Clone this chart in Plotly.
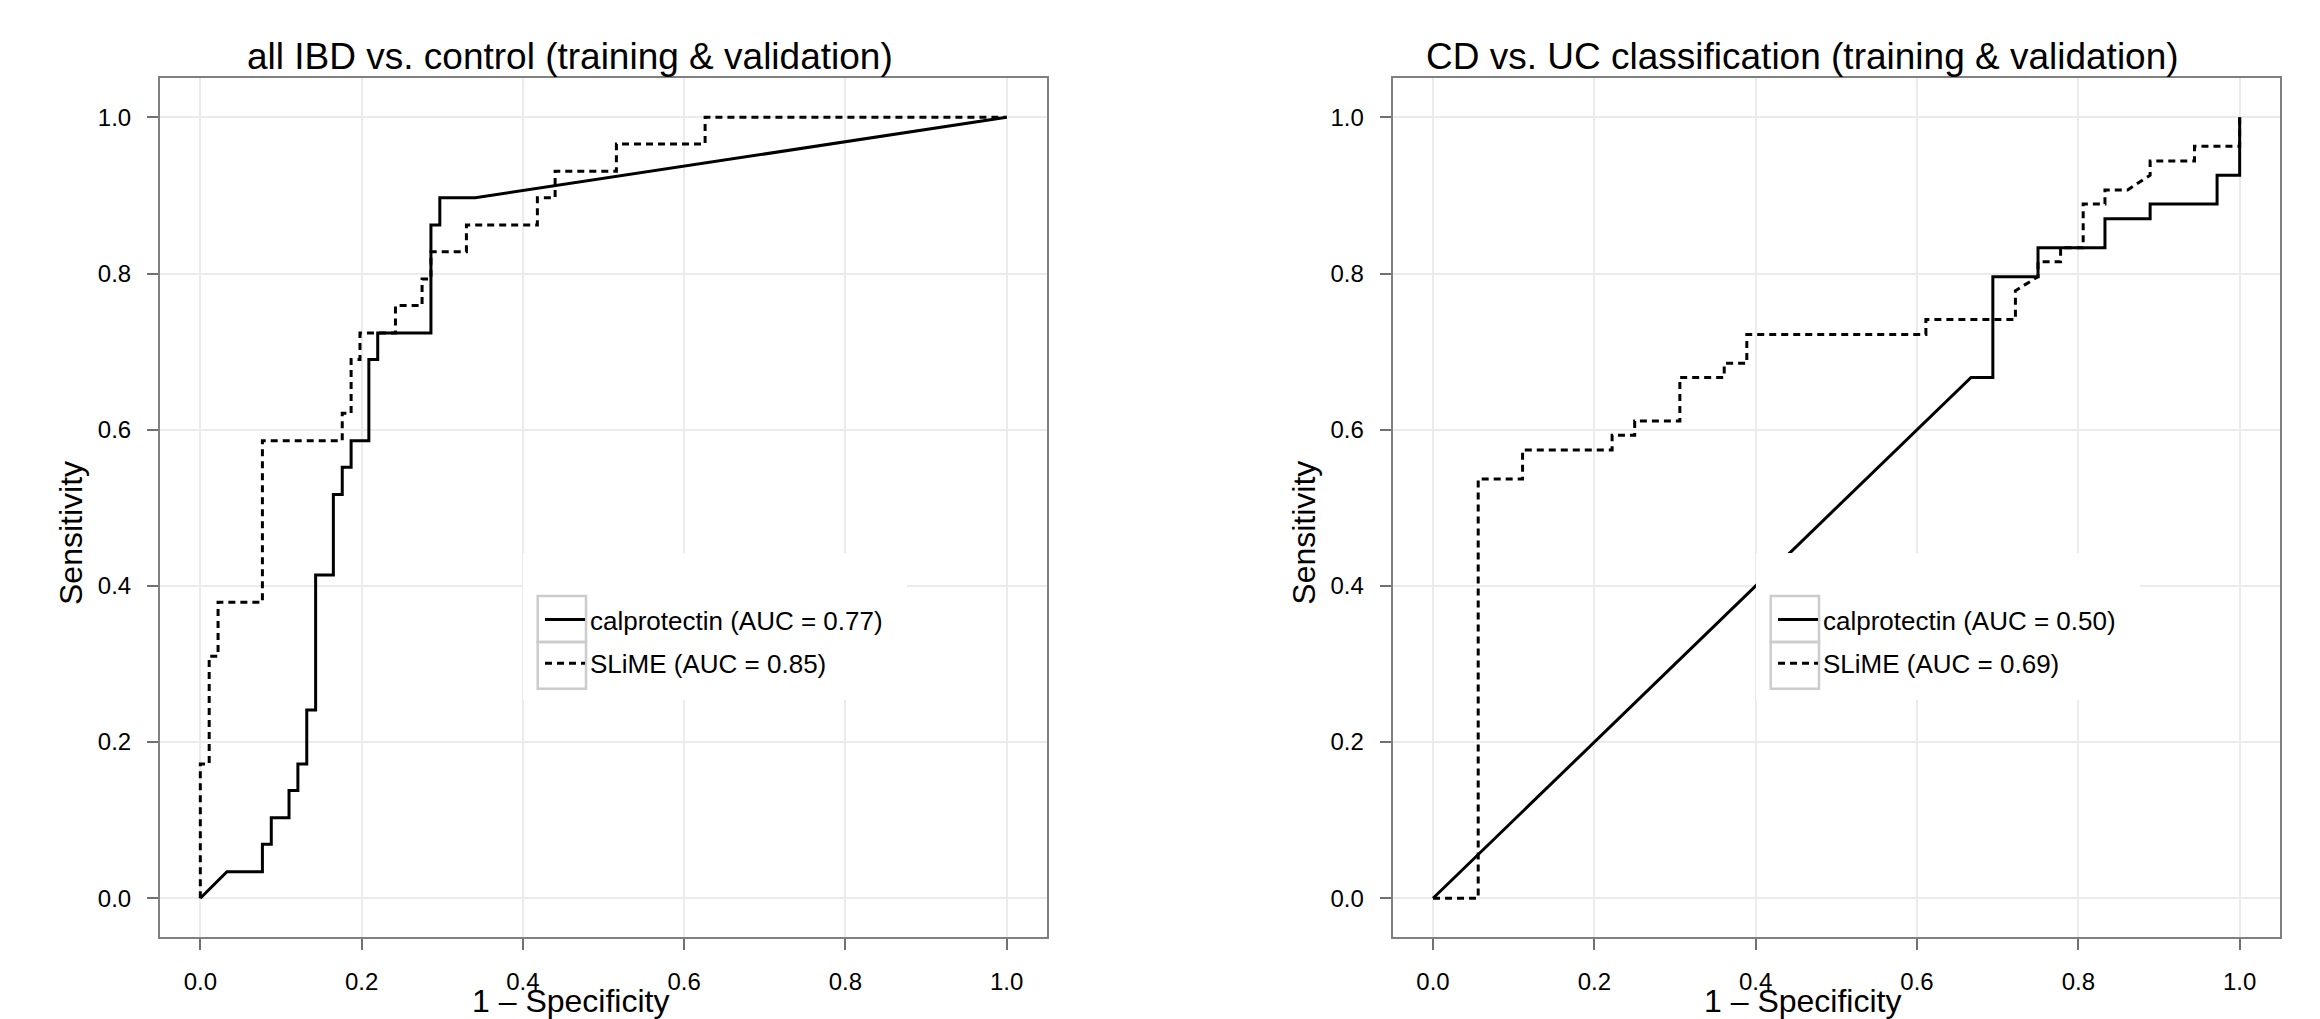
import plotly.graph_objects as go

# ---------------- data ----------------
# Panel 1: all IBD vs. control
ibd_calpro_fpr = [0, 0.033, 0.077, 0.077, 0.088, 0.088, 0.110, 0.110, 0.121, 0.121,
                  0.132, 0.132, 0.143, 0.143, 0.165, 0.165, 0.176, 0.176, 0.187, 0.187,
                  0.209, 0.209, 0.220, 0.220, 0.286, 0.286, 0.297, 0.297, 0.341, 1.0]
ibd_calpro_tpr = [0, 0.034, 0.034, 0.069, 0.069, 0.103, 0.103, 0.138, 0.138, 0.172,
                  0.172, 0.241, 0.241, 0.414, 0.414, 0.517, 0.517, 0.552, 0.552, 0.586,
                  0.586, 0.690, 0.690, 0.724, 0.724, 0.862, 0.862, 0.897, 0.897, 1.0]
ibd_slime_fpr = [0, 0, 0.011, 0.011, 0.022, 0.022, 0.077, 0.077, 0.176, 0.176,
                 0.187, 0.187, 0.198, 0.198, 0.242, 0.242, 0.275, 0.275, 0.286, 0.286,
                 0.330, 0.330, 0.418, 0.418, 0.440, 0.440, 0.516, 0.516, 0.626, 0.626, 1.0]
ibd_slime_tpr = [0, 0.172, 0.172, 0.310, 0.310, 0.379, 0.379, 0.586, 0.586, 0.621,
                 0.621, 0.690, 0.690, 0.724, 0.724, 0.759, 0.759, 0.793, 0.793, 0.828,
                 0.828, 0.862, 0.862, 0.897, 0.897, 0.931, 0.931, 0.966, 0.966, 1.0, 1.0]

# Panel 2: CD vs. UC classification
cduc_calpro_fpr = [0, 0.667, 0.694, 0.694, 0.750, 0.750, 0.833, 0.833, 0.889, 0.889,
                   0.972, 0.972, 1.0, 1.0]
cduc_calpro_tpr = [0, 0.667, 0.667, 0.796, 0.796, 0.833, 0.833, 0.870, 0.870, 0.889,
                   0.889, 0.926, 0.926, 1.0]
cduc_slime_fpr = [0, 0.056, 0.056, 0.111, 0.111, 0.222, 0.222, 0.250, 0.250, 0.306,
                  0.306, 0.361, 0.361, 0.389, 0.389, 0.611, 0.611, 0.722, 0.722, 0.750,
                  0.750, 0.778, 0.778, 0.806, 0.806, 0.833, 0.833, 0.861, 0.889, 0.889,
                  0.944, 0.944, 1.0, 1.0]
cduc_slime_tpr = [0, 0, 0.537, 0.537, 0.574, 0.574, 0.593, 0.593, 0.611, 0.611,
                  0.667, 0.667, 0.685, 0.685, 0.722, 0.722, 0.741, 0.741, 0.778, 0.796,
                  0.815, 0.815, 0.833, 0.833, 0.889, 0.889, 0.907, 0.907, 0.926, 0.944,
                  0.944, 0.963, 0.963, 1.0]

panel_titles = ["all IBD vs. control (training & validation)",
                "CD vs. UC classification (training & validation)"]
legend_ibd = ["calprotectin (AUC = 0.77)", "SLiME (AUC = 0.85)"]
legend_cduc = ["calprotectin (AUC = 0.50)", "SLiME (AUC = 0.69)"]
tick_vals = [0.0, 0.2, 0.4, 0.6, 0.8, 1.0]
x_label = "1 \u2013 Specificity"
y_label = "Sensitivity"

# ---------------- layout constants ----------------
W, H = 2320, 1019
FONT = "Liberation Sans, Arial, Helvetica, sans-serif"
DASH = "7px,5px"
LW = 3


def px(x):
    return x / W


def py(y):
    return 1 - y / H


fig = go.Figure()

fig.add_trace(go.Scatter(x=ibd_calpro_fpr, y=ibd_calpro_tpr, mode="lines",
                         name=legend_ibd[0], legend="legend", legendgroup="a1",
                         line=dict(color="black", width=LW),
                         xaxis="x", yaxis="y"))
fig.add_trace(go.Scatter(x=ibd_slime_fpr, y=ibd_slime_tpr, mode="lines",
                         name=legend_ibd[1], legend="legend", legendgroup="a2",
                         line=dict(color="black", width=LW, dash=DASH),
                         xaxis="x", yaxis="y"))
fig.add_trace(go.Scatter(x=cduc_calpro_fpr, y=cduc_calpro_tpr, mode="lines",
                         name=legend_cduc[0], legend="legend2", legendgroup="b1",
                         line=dict(color="black", width=LW),
                         xaxis="x2", yaxis="y2"))
fig.add_trace(go.Scatter(x=cduc_slime_fpr, y=cduc_slime_tpr, mode="lines",
                         name=legend_cduc[1], legend="legend2", legendgroup="b2",
                         line=dict(color="black", width=LW, dash=DASH),
                         xaxis="x2", yaxis="y2"))

axis_common = dict(
    range=[-0.05, 1.05], tickvals=tick_vals, tickformat=".1f",
    showgrid=True, gridcolor="#ebebeb", gridwidth=1.5,
    zeroline=False, showline=True, linecolor="#808080", linewidth=2, mirror=True,
    ticks="outside", ticklen=11, tickwidth=1.5, tickcolor="#707070",
    tickfont=dict(family=FONT, size=24, color="black"),
    ticklabelstandoff=11, fixedrange=True,
)

left_dom = [px(160), px(1047)]
right_dom = [px(1392.7), px(2280)]
y_dom = [py(937.3), py(78.3)]

fig.update_layout(
    width=W, height=H,
    margin=dict(l=0, r=0, t=0, b=0),
    paper_bgcolor="white", plot_bgcolor="white",
    font=dict(family=FONT, color="black"),
    xaxis=dict(domain=left_dom, anchor="y", **axis_common),
    yaxis=dict(domain=y_dom, anchor="x", **axis_common),
    xaxis2=dict(domain=right_dom, anchor="y2", **axis_common),
    yaxis2=dict(domain=y_dom, anchor="x2", **axis_common),
)

legend_common = dict(
    bgcolor="rgba(0,0,0,0)", borderwidth=0, xanchor="left", yanchor="top",
    font=dict(family=FONT, size=26, color="black"),
    itemwidth=40, tracegroupgap=7, itemclick=False, itemdoubleclick=False,
)
fig.update_layout(
    legend=dict(x=px(540), y=py(596), **legend_common),
    legend2=dict(x=px(540 + 1233), y=py(596), **legend_common),
)

# white legend backgrounds and key boxes (R-style legend frame)
shapes = []
for dx in (0, 1233):
    shapes.append(dict(type="rect", xref="paper", yref="paper", layer="above",
                       x0=px(523 + dx), x1=px(907 + dx), y0=py(700), y1=py(553),
                       fillcolor="white", line=dict(width=0)))
    for (t, b) in ((596, 642), (642, 688.7)):
        shapes.append(dict(type="rect", xref="paper", yref="paper", layer="above",
                           x0=px(537.7 + dx), x1=px(586 + dx), y0=py(b), y1=py(t),
                           fillcolor="rgba(0,0,0,0)",
                           line=dict(color="#cccccc", width=2.5)))
fig.update_layout(shapes=shapes)

annotations = []
for i, dx in enumerate((0, 1232.7)):
    annotations.append(dict(text=panel_titles[i], xref="paper", yref="paper",
                            x=px(570 + dx), y=py(56), xanchor="center", yanchor="middle",
                            showarrow=False, font=dict(family=FONT, size=37, color="black")))
    annotations.append(dict(text=y_label, xref="paper", yref="paper",
                            x=px(71 + dx), y=py(533), xanchor="center", yanchor="middle",
                            textangle=-90, showarrow=False,
                            font=dict(family=FONT, size=32, color="black")))
    annotations.append(dict(text=x_label, xref="paper", yref="paper",
                            x=px(570 + dx), y=py(1001), xanchor="center", yanchor="middle",
                            showarrow=False, font=dict(family=FONT, size=32, color="black")))
fig.update_layout(annotations=annotations)

fig.write_html(
    "out.html",
    config={"displayModeBar": False},
    post_script="document.body.style.margin='0';document.body.style.overflow='hidden';",
)
